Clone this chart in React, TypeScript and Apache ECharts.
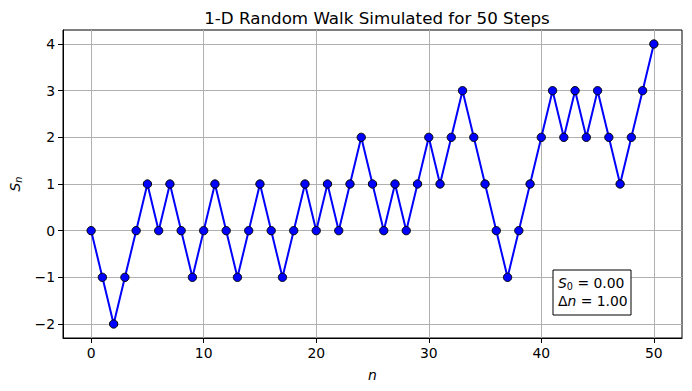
import React, { useEffect, useRef } from "react";
import * as echarts from "echarts";

const steps: number[] = Array.from({ length: 51 }, (_, i) => i);
const walk: number[] = [
  0, -1, -2, -1, 0, 1, 0, 1, 0, -1, 0, 1, 0, -1, 0, 1, 0, -1, 0, 1, 0, 1, 0, 1, 2, 1,
  0, 1, 0, 1, 2, 1, 2, 3, 2, 1, 0, -1, 0, 1, 2, 3, 2, 3, 2, 3, 2, 1, 2, 3, 4,
];
const xTicks: number[] = [0, 10, 20, 30, 40, 50];
const yTicks: number[] = [-2, -1, 0, 1, 2, 3, 4];
const titleText = "1-D Random Walk Simulated for 50 Steps";

const FONT = "DejaVu Sans";
const FS = 13.9;

export default function App() {
  const ref = useRef<HTMLDivElement>(null);
  useEffect(() => {
    document.body.style.margin = "0";
    const chart = echarts.init(ref.current!, null, { renderer: "svg" });
    const fmt = (v: number) => String(v).replace("-", "\u2212");
    chart.setOption({
      animation: false,
      backgroundColor: "#ffffff",
      textStyle: { fontFamily: FONT },
      title: {
        text: titleText,
        left: 372,
        textAlign: "center",
        top: 4,
        textStyle: { fontFamily: FONT, fontSize: 16.7, fontWeight: "normal", color: "#000" },
      },
      grid: { left: 62, right: 10, top: 30, bottom: 53, containLabel: false, show: true, borderColor: "#000", borderWidth: 1 },
      xAxis: {
        type: "value",
        min: -2.5,
        max: 52.5,
        name: "n",
        nameLocation: "middle",
        nameGap: 30,
        nameTextStyle: { fontFamily: FONT, fontSize: FS, fontStyle: "italic", color: "#000" },
        axisLine: { show: true, onZero: false, lineStyle: { color: "#000", width: 1 } },
        axisTick: { show: true, inside: false, length: 5, customValues: xTicks, lineStyle: { color: "#000" } },
        axisLabel: { customValues: xTicks, fontFamily: FONT, fontSize: FS, color: "#000", margin: 8, formatter: fmt },
        splitLine: { show: true, lineStyle: { color: "#b0b0b0", width: 1 } },
      },
      yAxis: {
        type: "value",
        min: -2.3,
        max: 4.3,
        name: "{i|S}{sub|n}",
        nameLocation: "middle",
        nameGap: 40,
        nameRotate: 90,
        nameTextStyle: {
          rich: {
            i: { fontFamily: FONT, fontSize: FS, fontStyle: "italic", color: "#000" },
            sub: { fontFamily: FONT, fontSize: 9.7, fontStyle: "italic", color: "#000", verticalAlign: "bottom", padding: [6, 0, 0, 0] },
          },
        },
        axisLine: { show: true, onZero: false, lineStyle: { color: "#000", width: 1 } },
        axisTick: { show: true, inside: false, length: 5, customValues: yTicks, lineStyle: { color: "#000" } },
        axisLabel: { customValues: yTicks, fontFamily: FONT, fontSize: FS, color: "#000", margin: 8, formatter: fmt },
        splitLine: { show: true, lineStyle: { color: "#b0b0b0", width: 1 } },
      },
      series: [
        {
          type: "line",
          data: steps.map((s, i) => [s, walk[i]]),
          lineStyle: { color: "#0000ff", width: 2 },
          symbol: "circle",
          symbolSize: 8.3,
          itemStyle: { color: "#0000ff", borderColor: "#000", borderWidth: 1 },
          z: 5,
        },
      ],
      graphic: [
        {
          type: "rect",
          shape: { x: 553, y: 270, width: 78, height: 45 },
          style: { fill: "#fff", stroke: "#000", lineWidth: 1 },
          z: 100,
        },
        {
          type: "text",
          x: 558,
          y: 275,
          z: 101,
          style: {
            text: "{i|S}{sub|0}{n| = 0.00}",
            rich: {
              i: { fontFamily: FONT, fontSize: FS, fontStyle: "italic", fill: "#000" },
              sub: { fontFamily: FONT, fontSize: 9.7, fill: "#000", verticalAlign: "bottom", padding: [6, 0, 0, 0] },
              n: { fontFamily: FONT, fontSize: FS, fill: "#000" },
            },
          },
        },
        {
          type: "text",
          x: 558,
          y: 294,
          z: 101,
          style: {
            text: "{n|\u0394}{i|n}{n| = 1.00}",
            rich: {
              i: { fontFamily: FONT, fontSize: FS, fontStyle: "italic", fill: "#000" },
              n: { fontFamily: FONT, fontSize: FS, fill: "#000" },
            },
          },
        },
      ],
    });
    return () => chart.dispose();
  }, []);
  return <div ref={ref} style={{ position: "absolute", left: 0, top: 0, width: 692, height: 391 }} />;
}
